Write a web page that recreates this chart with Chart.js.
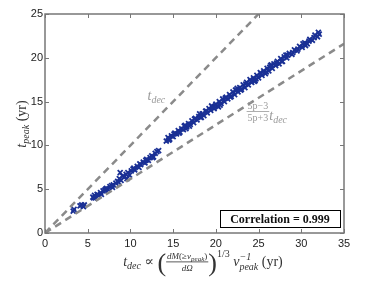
<!DOCTYPE html>
<html>
<head>
<meta charset="utf-8">
<script src="https://cdn.jsdelivr.net/npm/chart.js@4/dist/chart.umd.min.js"></script>
<style>
  html, body { margin: 0; padding: 0; background: #fff; }
</style>
</head>
<body>
<canvas id="chart" width="374" height="281"></canvas>
<script>
const tdec = [
  3.3, 3.4, 4.1, 4.3, 4.6, 4.5,
  5.6, 5.8, 5.9, 6.1, 6.3, 6.5, 6.6, 6.8, 7.0, 7.2, 7.4, 7.6, 7.8, 8.0,
  8.3, 8.5, 8.7, 8.9, 9.1, 9.3, 9.5, 9.7, 9.9, 10.1, 10.3, 10.5, 10.8, 11.0,
  11.2, 11.5, 11.7, 11.9, 12.1, 12.3, 12.5, 12.7, 12.9, 13.1, 13.3, 8.8, 9.6,
  14.2, 14.4, 14.6, 14.8, 15.0, 15.2, 15.4, 15.6, 15.8, 16.0, 16.2, 16.4, 16.6,
  16.8, 17.0, 17.2, 17.4, 17.6, 17.8, 18.0, 18.2, 18.4, 18.6, 18.8, 19.0, 19.2,
  19.4, 19.6, 19.8, 20.0, 20.2, 20.4, 20.6, 20.8, 21.0, 21.2, 21.4, 21.6, 21.8,
  22.0, 22.2, 22.4, 22.6, 22.8, 23.0, 23.2, 23.4, 23.6, 23.8, 24.0, 24.2, 24.4,
  24.6, 24.8, 25.0, 25.2, 25.4, 25.6, 25.8, 26.0, 26.2, 26.4, 26.6, 26.8, 27.0,
  27.2, 27.4, 27.6, 27.8, 28.0, 28.3, 28.6, 28.9, 29.2, 29.5, 29.8, 30.1, 30.4,
  30.7, 31.0, 31.3, 31.6, 31.9, 32.1,
  18.1, 20.3, 22.5, 24.5, 26.5, 28.2, 30.5, 32.0, 16.5, 19.5,
  14.5, 15.1, 15.7, 16.3, 16.9, 17.5, 18.3, 18.9, 19.7, 20.5, 21.1, 21.7, 22.3,
  22.9, 23.5, 24.1, 24.7, 25.3, 25.9, 26.3, 27.1, 27.7, 28.4, 29.0, 29.6, 30.2,
  30.9, 31.5, 7.1, 7.9, 8.6, 10.4, 11.1, 11.8, 12.6, 6.2, 5.7
];
const tpeak = [
  2.5, 2.7, 3.1, 3.2, 3.2, 3.0,
  4.1, 4.3, 4.0, 4.4, 4.3, 4.6, 4.4, 4.8, 4.9, 5.1, 5.0, 5.3, 5.4, 5.5,
  5.7, 5.9, 6.2, 6.0, 6.5, 6.4, 6.7, 6.9, 6.6, 7.1, 7.3, 7.2, 7.6, 7.5,
  7.8, 8.1, 8.0, 8.4, 8.3, 8.6, 8.8, 8.7, 9.1, 9.3, 9.4, 6.9, 6.2,
  10.5, 10.9, 10.7, 11.1, 11.0, 11.4, 11.3, 11.7, 11.5, 11.9, 11.8, 12.3, 12.1,
  12.5, 12.4, 12.8, 12.6, 13.1, 12.9, 13.3, 13.2, 13.6, 13.4, 13.9, 13.7, 14.2,
  14.0, 14.4, 14.2, 14.7, 14.5, 15.0, 14.8, 15.3, 15.0, 15.5, 15.3, 15.8, 15.6,
  16.1, 15.8, 16.3, 16.1, 16.6, 16.4, 16.9, 16.6, 17.2, 16.9, 17.5, 17.2, 17.7,
  17.4, 18.0, 17.7, 18.3, 18.0, 18.5, 18.2, 18.8, 18.5, 19.1, 18.8, 19.3, 19.1,
  19.6, 19.3, 19.9, 19.6, 20.1, 20.0, 20.5, 20.4, 20.9, 20.8, 21.3, 21.2, 21.7,
  21.6, 22.1, 22.0, 22.6, 22.4, 22.7,
  13.6, 14.4, 16.5, 17.3, 19.2, 20.3, 21.4, 22.9, 11.9, 14.5,
  10.6, 11.3, 11.4, 12.2, 12.2, 13.0, 13.2, 13.9, 14.3, 14.6, 15.4, 15.5, 16.3,
  16.3, 17.0, 17.3, 17.6, 18.2, 18.4, 18.9, 19.4, 19.6, 20.3, 20.6, 21.0, 21.6,
  21.9, 22.3, 5.0, 5.2, 5.8, 7.4, 7.9, 8.3, 8.6, 4.3, 4.0
];

// reference lines: t_peak = t_dec and t_peak = (5p-3)/(5p+3) t_dec
const upperX = [0, 25];
const upperY = [0, 25];
const lowerX = [0, 35];
const lowerY = [0, 21.6];

const xTicks = [0, 5, 10, 15, 20, 25, 30, 35];
const yTicks = [0, 5, 10, 15, 20, 25];
const corrText = 'Correlation = 0.999';

const SERIF = '"Liberation Serif", "DejaVu Serif", serif';
const fI = (s) => 'italic ' + s + 'px ' + SERIF;
const fR = (s) => s + 'px ' + SERIF;

// draws a run of text pieces (with sub/sup/fraction), returns width
function seq(ctx, runs, x, y, draw) {
  let cx = x;
  for (const r of runs) {
    if (r.frac) {
      const wn = seq(ctx, r.frac[0], 0, 0, false);
      const wd = seq(ctx, r.frac[1], 0, 0, false);
      const w = Math.max(wn, wd) + 2;
      if (draw) {
        seq(ctx, r.frac[0], cx + (w - wn) / 2, y - 7, true);
        seq(ctx, r.frac[1], cx + (w - wd) / 2, y + 5, true);
        ctx.fillRect(cx, y - 4.5, w, 0.8);
      }
      cx += w;
    } else if (r.stack) {
      ctx.font = r.f;
      const w1 = ctx.measureText(r.stack[0]).width;
      const w2 = ctx.measureText(r.stack[1]).width;
      if (draw) {
        ctx.fillText(r.stack[0], cx, y - 6);
        ctx.fillText(r.stack[1], cx, y + 4);
      }
      cx += Math.max(w1, w2);
    } else {
      ctx.font = r.f;
      if (draw) ctx.fillText(r.t, cx, y + (r.dy || 0));
      cx += ctx.measureText(r.t).width;
    }
  }
  return cx - x;
}

const xTitle = [
  {t: 't', f: fI(14)}, {t: 'dec', f: fI(10), dy: 3},
  {t: ' \u221D ', f: fR(14)},
  {t: '(', f: fR(26), dy: 5},
  {frac: [
    [{t: 'dM', f: fI(9)}, {t: '(\u2265', f: fR(9)}, {t: 'v', f: fI(9)}, {t: 'peak', f: fI(7), dy: 1.5}, {t: ')', f: fR(9)}],
    [{t: 'd\u03A9', f: fI(9)}]
  ]},
  {t: ')', f: fR(26), dy: 5},
  {t: '1/3', f: fR(10), dy: -9},
  {t: ' v', f: fI(14)},
  {stack: ['\u22121', 'peak'], f: fI(10)},
  {t: ' (yr)', f: fR(14)}
];
const yTitle = [
  {t: 't', f: fI(14)}, {t: 'peak', f: fI(10), dy: 3}, {t: ' (yr)', f: fR(14)}
];

const decorPlugin = {
  id: 'decor',
  afterDraw(chart) {
    const ctx = chart.ctx;
    const a = chart.chartArea;
    const xs = chart.scales.x, ys = chart.scales.y;
    ctx.save();

    // frame + inward ticks
    ctx.strokeStyle = '#777';
    ctx.lineWidth = 1.5;
    ctx.strokeRect(a.left, a.top, a.right - a.left, a.bottom - a.top);
    ctx.lineWidth = 1;
    ctx.beginPath();
    xTicks.forEach(v => {
      const p = Math.round(xs.getPixelForValue(v)) + 0.5;
      ctx.moveTo(p, a.bottom); ctx.lineTo(p, a.bottom - 4);
      ctx.moveTo(p, a.top); ctx.lineTo(p, a.top + 4);
    });
    yTicks.forEach(v => {
      const p = Math.round(ys.getPixelForValue(v)) + 0.5;
      ctx.moveTo(a.left, p); ctx.lineTo(a.left + 4, p);
      ctx.moveTo(a.right, p); ctx.lineTo(a.right - 4, p);
    });
    ctx.stroke();

    // line labels
    ctx.fillStyle = '#9a9a9a';
    ctx.textBaseline = 'alphabetic';
    seq(ctx, [{t: 't', f: fI(14)}, {t: 'dec', f: fI(10), dy: 3}],
      xs.getPixelForValue(12.0), ys.getPixelForValue(15.2), true);
    seq(ctx, [
      {frac: [[{t: '5p\u22123', f: fR(10)}], [{t: '5p+3', f: fR(10)}]]},
      {t: 't', f: fI(14), dy: 4}, {t: 'dec', f: fI(10), dy: 7}
    ], xs.getPixelForValue(23.6), ys.getPixelForValue(13.4), true);

    // correlation box
    const bw = 120, bh = 17;
    const bx = a.right - 4 - bw, by = a.bottom - 6 - bh;
    ctx.fillStyle = '#fff';
    ctx.fillRect(bx, by, bw, bh);
    ctx.strokeStyle = '#000';
    ctx.lineWidth = 1;
    ctx.strokeRect(bx + 0.5, by + 0.5, bw, bh);
    ctx.fillStyle = '#111';
    ctx.font = 'bold 12px ' + SERIF;
    ctx.textAlign = 'center';
    ctx.textBaseline = 'middle';
    ctx.fillText(corrText, bx + bw / 2, by + bh / 2 + 1);

    // axis titles
    ctx.textAlign = 'left';
    ctx.textBaseline = 'alphabetic';
    ctx.fillStyle = '#333';
    const wx = seq(ctx, xTitle, 0, 0, false);
    seq(ctx, xTitle, 203 - wx / 2, 266, true);
    const wy = seq(ctx, yTitle, 0, 0, false);
    ctx.translate(26, 124);
    ctx.rotate(-Math.PI / 2);
    seq(ctx, yTitle, -wy / 2, 0, true);
    ctx.restore();
  }
};

const toPts = (xa, ya) => xa.map((x, i) => ({x: x, y: ya[i]}));

new Chart(document.getElementById('chart'), {
  type: 'scatter',
  data: {
    datasets: [
      {
        type: 'line',
        data: toPts(upperX, upperY),
        borderColor: '#8a8a8a',
        borderWidth: 2.5,
        borderDash: [7, 5],
        pointRadius: 0,
        fill: false
      },
      {
        type: 'line',
        data: toPts(lowerX, lowerY),
        borderColor: '#8a8a8a',
        borderWidth: 2.5,
        borderDash: [7, 5],
        pointRadius: 0,
        fill: false
      },
      {
        data: toPts(tdec, tpeak),
        pointStyle: 'crossRot',
        pointRadius: 3.5,
        borderWidth: 1.8,
        borderColor: '#1a3095',
        backgroundColor: '#1a3095'
      }
    ]
  },
  options: {
    responsive: false,
    animation: false,
    layout: { padding: { top: 14, right: 30, left: 0, bottom: 0 } },
    plugins: { legend: { display: false }, tooltip: { enabled: false } },
    scales: {
      x: {
        type: 'linear', min: 0, max: 35,
        afterBuildTicks: (s) => { s.ticks = xTicks.map(v => ({value: v})); },
        afterFit: (s) => { s.height = 48; },
        ticks: { color: '#222', padding: 4, font: { family: '"Liberation Sans", Arial, sans-serif', size: 11 } },
        grid: { display: false, drawTicks: false, tickLength: 0 },
        border: { display: false }
      },
      y: {
        type: 'linear', min: 0, max: 25,
        afterBuildTicks: (s) => { s.ticks = yTicks.map(v => ({value: v})); },
        afterFit: (s) => { s.width = 45; },
        ticks: { color: '#222', padding: 2, font: { family: '"Liberation Sans", Arial, sans-serif', size: 11 } },
        grid: { display: false, drawTicks: false, tickLength: 0 },
        border: { display: false }
      }
    }
  },
  plugins: [decorPlugin]
});
</script>
</body>
</html>
